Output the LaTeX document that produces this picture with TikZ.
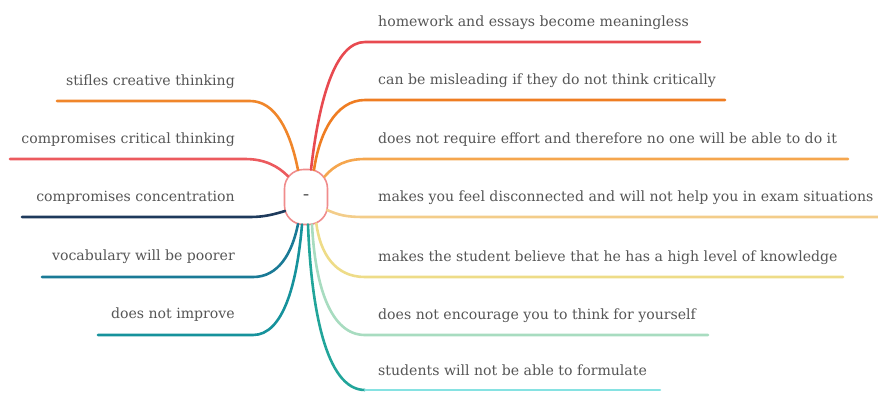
\documentclass[tikz,border=0pt]{standalone}
\usepackage{fontspec}
\setmainfont{DejaVu Serif}
\usetikzlibrary{calc}

\definecolor{txt}{HTML}{555555}
\definecolor{hubline}{HTML}{F08C8C}
\definecolor{cLa}{HTML}{F0862A}
\definecolor{cLb}{HTML}{EC5A5E}
\definecolor{cLc}{HTML}{1E3A5C}
\definecolor{cLd}{HTML}{1A7A96}
\definecolor{cLe}{HTML}{16929C}
\definecolor{cRa}{HTML}{E84A50}
\definecolor{cRb}{HTML}{EF7D22}
\definecolor{cRc}{HTML}{F5A64E}
\definecolor{cRd}{HTML}{F3CD8A}
\definecolor{cRe}{HTML}{EEDC88}
\definecolor{cRf}{HTML}{A8DCC0}
\definecolor{cRg}{HTML}{22A59A}
\definecolor{cRh}{HTML}{86E2E2}

\tikzset{
  hub/.style={draw=hubline, line width=1.6pt, fill=white, rounded corners=19pt,
    minimum width=43pt, minimum height=55pt, inner sep=0pt},
  branch/.style={line width=2.6pt, line cap=round},
  lbl/.style={text=txt, inner sep=0pt, font=\fontsize{14.1}{16}\selectfont},
  lblR/.style={lbl, anchor=base west},
  lblL/.style={lbl, anchor=base east},
}

\begin{document}
\begin{tikzpicture}[x=1pt, y=-1pt]
\useasboundingbox (0,0) rectangle (878,392);

% central topic
\node[hub] (c) at (306,197) {};
\node[text=txt, font=\fontsize{12}{12}\selectfont\bfseries] (dash) at (c.center) {–};

% ---------- right side ----------
\coordinate (ra1) at (365,42);  \coordinate (ra2) at (700,42);
\coordinate (rb1) at (365,100); \coordinate (rb2) at (725,100);
\coordinate (rc1) at (365,159); \coordinate (rc2) at (848,159);
\coordinate (rd1) at (365,217); \coordinate (rd2) at (879,217);
\coordinate (re1) at (365,277); \coordinate (re2) at (843,277);
\coordinate (rf1) at (365,335); \coordinate (rf2) at (708,335);
\coordinate (rg1) at (365,390); \coordinate (rh2) at (660,390);

\draw[branch, cRa] ($(c.center)+(5,-27.4)$) .. controls +(8,-70) and +(-30,0) .. (ra1) -- (ra2);
\draw[branch, cRb] ($(c.center)+(8,-27.1)$) .. controls +(5,-35) and +(-30,0) .. (rb1) -- (rb2);
\draw[branch, cRc] ($(c.center)+(18.4,-20.2)$) .. controls +(10,-12) and +(-18,0) .. (rc1) -- (rc2);
\draw[branch, cRd] ($(c.center)+(21,13)$) .. controls +(12,5) and +(-20,0) .. (rd1) -- (rd2);
\draw[branch, cRe] ($(c.center)+(10.3,26.5)$) .. controls +(4,30) and +(-30,0) .. (re1) -- (re2);
\draw[branch, cRf] ($(c.center)+(6,27.4)$) .. controls +(3,60) and +(-35,0) .. (rf1) -- (rf2);
\draw[branch, cRg] ($(c.center)+(2,27.5)$) .. controls +(3,80) and +(-40,0) .. (rg1);
\draw[branch, cRh] (rg1) -- (rh2);

\node[lblR] (ta) at (378,26)  {homework and essays become meaningless};
\node[lblR] (tb) at (378,84)  {can be misleading if they do not think critically};
\node[lblR] (tc) at (378,143) {does not require effort and therefore no one will be able to do it};
\node[lblR] (td) at (378,201) {makes you feel disconnected and will not help you in exam situations};
\node[lblR] (te) at (378,261) {makes the student believe that he has a high level of knowledge};
\node[lblR] (tf) at (378,319) {does not encourage you to think for yourself};
\node[lblR] (tg) at (378,375) {students will not be able to formulate};

% ---------- left side ----------
\coordinate (la1) at (250,101); \coordinate (la2) at (57,101);
\coordinate (lb1) at (245,159); \coordinate (lb2) at (10,159);
\coordinate (lc1) at (250,217); \coordinate (lc2) at (22,217);
\coordinate (ld1) at (253,277); \coordinate (ld2) at (42,277);
\coordinate (le1) at (253,335); \coordinate (le2) at (98,335);

\draw[branch, cLa] ($(c.center)+(-8,-27.1)$) .. controls +(-8,-40) and +(25,0) .. (la1) -- (la2);
\draw[branch, cLb] ($(c.center)+(-18,-20.8)$) .. controls +(-10,-10) and +(20,0) .. (lb1) -- (lb2);
\draw[branch, cLc] ($(c.center)+(-21,14)$) .. controls +(-10,3) and +(15,0) .. (lc1) -- (lc2);
\draw[branch, cLd] ($(c.center)+(-8,27.1)$) .. controls +(-6,30) and +(25,0) .. (ld1) -- (ld2);
\draw[branch, cLe] ($(c.center)+(-4,27.5)$) .. controls +(-5,60) and +(30,0) .. (le1) -- (le2);

\node[lblL] (sa) at (235,85)  {stifles creative thinking};
\node[lblL] (sb) at (235,143) {compromises critical thinking};
\node[lblL] (sc) at (235,201) {compromises concentration};
\node[lblL] (sd) at (235,260) {vocabulary will be poorer};
\node[lblL] (se) at (235,318) {does not improve};
\end{tikzpicture}
\end{document}
